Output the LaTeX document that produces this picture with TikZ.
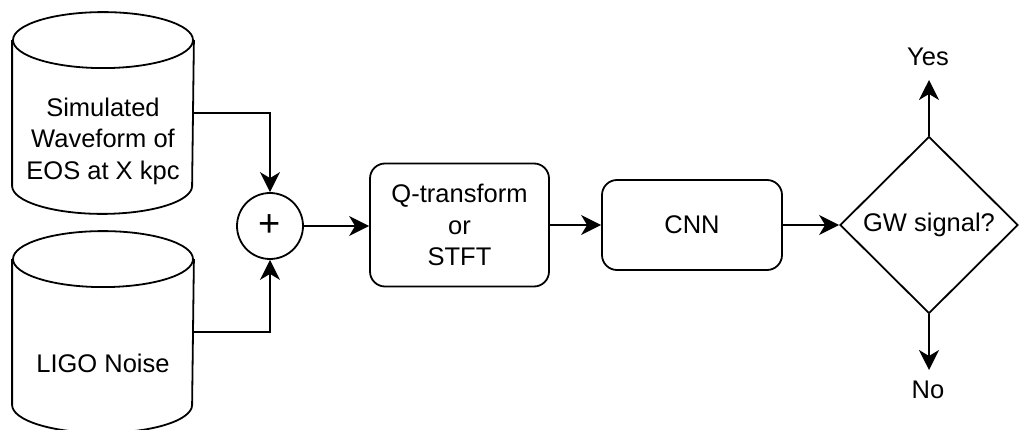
\documentclass[tikz,border=0pt]{standalone}
\usepackage{fontspec}
\setmainfont{Liberation Sans}
\usetikzlibrary{shapes.geometric,arrows.meta,calc}
\newcommand\cylout[1]{%
  \draw ($(#1.north)+(0,-28pt)$) ellipse [x radius=90pt, y radius=28pt];
  \draw ([yshift=-28pt]#1.north west) -- ([yshift=28pt]#1.south west)
    arc[start angle=180, end angle=360, x radius=90pt, y radius=28pt]
    -- ([yshift=-28pt]#1.north east);}
\begin{document}
\begin{tikzpicture}[x=1pt, y=-1pt, line width=1.8pt,
  every node/.style={font=\fontsize{25.5}{31.5}\selectfont, align=center, inner sep=0pt},
  cylbox/.style={minimum width=180pt, minimum height=200pt},
  procbox/.style={draw, rounded corners=15pt},
  sumnode/.style={draw, circle, minimum size=66pt, font=\fontsize{38}{38}\selectfont},
  decision/.style={draw, diamond, aspect=1, minimum width=178pt, minimum height=177pt},
  arr/.style={-{Stealth[length=20pt, width=20pt, inset=6pt]}}]
\fill[white] (0,0) rectangle (1022,430);
\useasboundingbox (0,0) rectangle (1022,430);
% data stores
\node[cylbox] (cyl1) at (103,113) {};
\node[cylbox] (cyl2) at (103,332) {};
\cylout{cyl1}
\cylout{cyl2}
\node (t1) at (103,141) {Simulated\\Waveform of\\EOS at X kpc};
\node (t2) at (103,363) {LIGO Noise};
% processing
\node[sumnode] (sum) at (270,226) {+};
\node[procbox, minimum width=179pt, minimum height=123pt] (qt) at (459.5,225) {Q-transform\\or\\STFT};
\node[procbox, minimum width=180pt, minimum height=90pt] (cnn) at (692,225) {CNN};
\node[decision] (gw) at (929,225) {GW signal?};
\node (yes) at (928,57) {Yes};
\node (no) at (928,390) {No};
\coordinate (yesend) at (929,80);
\coordinate (noend) at (929,370);
% connectors
\draw[arr] (cyl1.east) -| (sum.north);
\draw[arr] (cyl2.east) -| (sum.south);
\draw[arr] (sum.east) -- (sum.east -| qt.west);
\draw[arr] (qt.east) -- (cnn.west);
\draw[arr] (cnn.east) -- (gw.west);
\draw[arr] (gw.north) -- (yesend);
\draw[arr] (gw.south) -- (noend);
\end{tikzpicture}
\end{document}
